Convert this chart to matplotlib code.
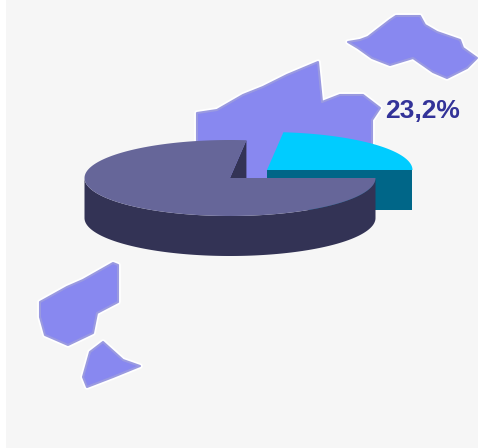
import numpy as np
import matplotlib
matplotlib.use('Agg')
import matplotlib.pyplot as plt

# pie shares in percent
labels = ['23,2%', '']
shares = [23.2, 76.8]

# map outlines, pixel coords
island_ne_x = [348, 360, 368, 377, 390, 396, 420, 425, 437, 460, 463, 477, 467, 447, 433, 413, 390, 372, 358]
island_ne_y = [42, 40, 37, 30, 20, 16, 16, 25, 32, 40, 48, 58, 68, 78, 72, 58, 65, 58, 48]
island_mid_x = [197, 217, 243, 263, 287, 318, 322, 340, 363, 380, 372, 372, 197]
island_mid_y = [113, 110, 95, 87, 75, 62, 102, 95, 95, 108, 120, 180, 180]
island_sw_x = [40, 67, 83, 113, 118, 118, 97, 93, 68, 45, 40]
island_sw_y = [302, 287, 280, 263, 265, 302, 313, 333, 345, 335, 317]
island_s_x = [103, 123, 140, 113, 87, 83, 90]
island_s_y = [342, 360, 366, 377, 387, 377, 352]

fig = plt.figure(figsize=(4.78, 4.48), dpi=100)
ax = fig.add_axes([0, 0, 1, 1])
ax.set_xlim(0, 478)
ax.set_ylim(448, 0)
ax.axis('off')

ax.fill([6, 478, 478, 6], [0, 0, 448, 448], color='#f6f6f6', lw=0, zorder=0)

for xs, ys in [(island_ne_x, island_ne_y), (island_mid_x, island_mid_y),
               (island_sw_x, island_sw_y), (island_s_x, island_s_y)]:
    ax.fill(xs, ys, facecolor='#8888f0', edgecolor='#ffffff', lw=4, joinstyle='round', zorder=1)
    ax.fill(xs, ys, facecolor='#8888f0', edgecolor='#9a9ae0', lw=1.5, joinstyle='round', zorder=2)

# pie geometry
a = 145.5
b = 38
depth = 40
cx, cy = 230, 178      # main slice vertex
ex, ey = 267, 170      # pulled out slice vertex
split = 360 * shares[0] / sum(shares)


def rim(x0, y0, start, stop):
    t = np.radians(np.linspace(start, stop, 200))
    return x0 + a * np.cos(t), y0 - b * np.sin(t)


# pulled out slice, goes behind main slice
xr, yr = rim(ex, ey, 0, split)
ax.fill([ex, ex + a, ex + a, ex], [ey, ey, ey + depth, ey + depth], color='#006688', lw=0, zorder=3)
ax.fill(np.r_[ex, xr], np.r_[ey, yr], color='#00ccff', lw=0, zorder=4)

# main slice: outer wall, cut wall, top
xf, yf = rim(cx, cy, 180, 360)
ax.fill(np.r_[xf, xf[::-1]], np.r_[yf, yf[::-1] + depth], color='#333355', lw=0, zorder=5)
xs0 = cx + a * np.cos(np.radians(split))
ys0 = cy - b * np.sin(np.radians(split))
ax.fill([cx, xs0, xs0, cx], [cy, ys0, ys0 + depth, cy + depth], color='#333355', lw=0, zorder=5)
xm, ym = rim(cx, cy, split, 360)
ax.fill(np.r_[cx, xm], np.r_[cy, ym], color='#666699', lw=0, zorder=6)

ax.text(422.5, 111, labels[0], color='#333399', fontsize=19, fontweight='bold',
        family='Liberation Sans', ha='center', va='center', zorder=7)

plt.savefig('out.png', dpi=100)
